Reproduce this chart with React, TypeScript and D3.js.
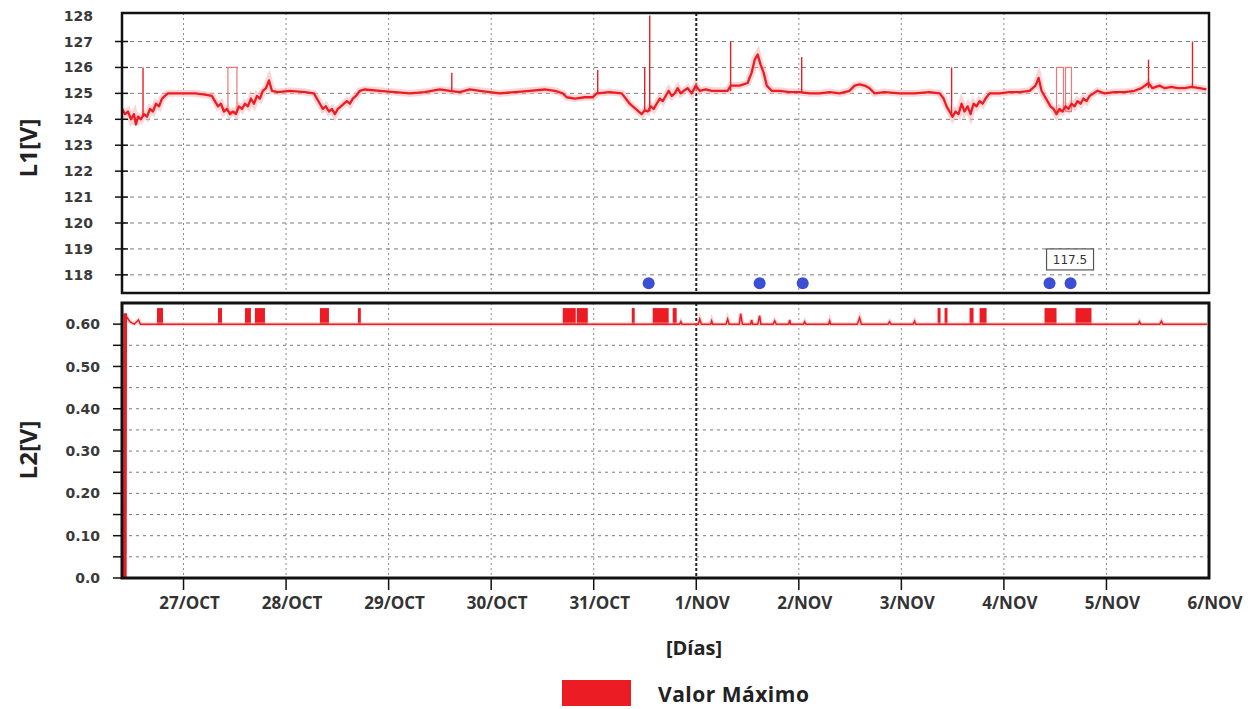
import React from "react";
import * as d3 from "d3";

// ---- Data (days counted continuously from October: 32 = 1/NOV) ----
const tickDays = [27, 28, 29, 30, 31, 32, 33, 34, 35, 36, 37];
const tickLabels = ["27/OCT", "28/OCT", "29/OCT", "30/OCT", "31/OCT", "1/NOV", "2/NOV", "3/NOV", "4/NOV", "5/NOV", "6/NOV"];
const l1TickValues = [118, 119, 120, 121, 122, 123, 124, 125, 126, 127, 128];
const l2TickValues = [0, 0.1, 0.2, 0.3, 0.4, 0.5, 0.6];
const l2TickLabels = ["0.0", "0.10", "0.20", "0.30", "0.40", "0.50", "0.60"];

// L1 voltage trace [day, volts]
const l1Series: [number, number][] = [
  [26.400, 124.4], [26.429, 124.2], [26.458, 124.3], [26.488, 124.0], [26.517, 124.2], [26.536, 123.8],
  [26.556, 124.1], [26.585, 124.0], [26.614, 124.2], [26.644, 124.1], [26.673, 124.4], [26.702, 124.3],
  [26.731, 124.6], [26.761, 124.5], [26.790, 124.8], [26.819, 124.9], [26.848, 125.0], [26.965, 125.0],
  [27.112, 125.0], [27.209, 124.95], [27.277, 124.9], [27.306, 124.7], [27.336, 124.5], [27.365, 124.6],
  [27.394, 124.3], [27.423, 124.4], [27.453, 124.2], [27.482, 124.3], [27.511, 124.2], [27.540, 124.5],
  [27.570, 124.4], [27.599, 124.6], [27.628, 124.5], [27.657, 124.8], [27.687, 124.6], [27.716, 124.9],
  [27.745, 124.8], [27.774, 125.1], [27.804, 125.2], [27.833, 125.5], [27.862, 125.1], [27.920, 125.05],
  [28.037, 125.1], [28.184, 125.05], [28.271, 125.0], [28.301, 124.8], [28.330, 124.6], [28.359, 124.4],
  [28.388, 124.5], [28.418, 124.3], [28.447, 124.4], [28.476, 124.2], [28.505, 124.4], [28.535, 124.5],
  [28.564, 124.6], [28.593, 124.7], [28.622, 124.6], [28.651, 124.8], [28.681, 124.9], [28.720, 125.1],
  [28.768, 125.15], [28.915, 125.1], [29.061, 125.05], [29.207, 125.0], [29.353, 125.05], [29.499, 125.15],
  [29.597, 125.1], [29.694, 125.05], [29.792, 125.15], [29.889, 125.1], [29.987, 125.05], [30.084, 125.0],
  [30.230, 125.05], [30.377, 125.1], [30.523, 125.15], [30.620, 125.1], [30.698, 125.0], [30.737, 124.85],
  [30.815, 124.8], [30.913, 124.85], [30.991, 124.85], [31.030, 125.0], [31.156, 125.05], [31.273, 125.0],
  [31.312, 124.8], [31.351, 124.6], [31.381, 124.5], [31.410, 124.4], [31.439, 124.3], [31.468, 124.2],
  [31.498, 124.35], [31.527, 124.3], [31.556, 124.5], [31.585, 124.4], [31.614, 124.6], [31.644, 124.8],
  [31.673, 124.7], [31.702, 124.9], [31.731, 125.1], [31.761, 124.9], [31.790, 125.0], [31.819, 125.2],
  [31.848, 125.0], [31.878, 125.1], [31.917, 125.2], [31.956, 125.0], [31.995, 125.3], [32.034, 125.1],
  [32.092, 125.15], [32.150, 125.1], [32.228, 125.1], [32.306, 125.1], [32.336, 125.3], [32.423, 125.3],
  [32.501, 125.4], [32.540, 125.8], [32.570, 126.3], [32.599, 126.5], [32.628, 126.1], [32.657, 125.8],
  [32.687, 125.3], [32.735, 125.1], [32.813, 125.1], [32.911, 125.05], [33.008, 125.05], [33.106, 125.0],
  [33.203, 125.0], [33.301, 125.05], [33.398, 125.0], [33.495, 125.1], [33.544, 125.3], [33.593, 125.35],
  [33.642, 125.3], [33.690, 125.2], [33.739, 125.0], [33.837, 125.05], [33.983, 125.0], [34.129, 125.0],
  [34.275, 125.05], [34.373, 125.0], [34.412, 124.8], [34.441, 124.5], [34.470, 124.3], [34.499, 124.1],
  [34.529, 124.3], [34.558, 124.2], [34.587, 124.6], [34.616, 124.3], [34.646, 124.5], [34.675, 124.2],
  [34.704, 124.6], [34.733, 124.5], [34.763, 124.7], [34.792, 124.6], [34.821, 124.8], [34.860, 125.0],
  [34.958, 125.0], [35.055, 125.05], [35.152, 125.05], [35.250, 125.1], [35.308, 125.3], [35.338, 125.6],
  [35.367, 125.1], [35.396, 124.9], [35.425, 124.7], [35.454, 124.5], [35.484, 124.4], [35.513, 124.2],
  [35.542, 124.4], [35.571, 124.3], [35.601, 124.5], [35.630, 124.4], [35.659, 124.6], [35.688, 124.5],
  [35.718, 124.7], [35.747, 124.6], [35.776, 124.8], [35.805, 124.7], [35.835, 124.9], [35.874, 125.0],
  [35.913, 125.1], [35.981, 125.0], [36.078, 125.05], [36.176, 125.05], [36.273, 125.1], [36.341, 125.2],
  [36.410, 125.4], [36.449, 125.2], [36.517, 125.3], [36.569, 125.2], [36.634, 125.25], [36.693, 125.2],
  [36.761, 125.2], [36.829, 125.25], [36.907, 125.2], [36.975, 125.15],
];

// L1 short max spikes: day, base volts, peak volts
const l1SpikeDays = [26.605, 29.616, 31.039, 31.497, 31.546, 32.335, 33.028, 34.490, 36.410, 36.839];
const l1SpikeBases = [124.1, 125.1, 125.0, 124.3, 124.3, 125.1, 125.05, 124.1, 125.2, 125.2];
const l1SpikeTops = [126.0, 125.8, 125.9, 126.0, 128.0, 127.0, 126.4, 126.0, 126.3, 127.0];

// L1 max pulses drawn as outlined boxes: [start, end]
const l1Pulses: [number, number][] = [[27.433, 27.521], [35.513, 35.581], [35.601, 35.659]];
const l1PulseBase = 124.3;
const l1PulseTop = 126.0;

// L1 minimum markers
const l1MinDays = [31.536, 32.618, 33.038, 35.445, 35.650];
const l1MinValue = 117.68;
const l1MinLabel = "117.5";

// L2 trace [day, volts]
const l2Series: [number, number][] = [
  [26.428, 0.0], [26.432, 0.625], [26.45, 0.615], [26.48, 0.605], [26.52, 0.6], [26.56, 0.61], [26.58, 0.6],
  [27.0, 0.6], [28.0, 0.6], [29.0, 0.6], [30.0, 0.6], [31.0, 0.6], [31.838, 0.6], [31.85, 0.606], [31.86, 0.6],
  [32.02, 0.6], [32.034, 0.612], [32.05, 0.6], [32.14, 0.6], [32.150, 0.608], [32.16, 0.6],
  [32.29, 0.6], [32.306, 0.612], [32.32, 0.6], [32.42, 0.6], [32.433, 0.625], [32.45, 0.6],
  [32.53, 0.6], [32.540, 0.61], [32.55, 0.6], [32.60, 0.6], [32.618, 0.62], [32.63, 0.6],
  [32.75, 0.6], [32.765, 0.608], [32.78, 0.6], [32.90, 0.6], [32.911, 0.61], [32.92, 0.6],
  [33.045, 0.6], [33.057, 0.606], [33.07, 0.6], [33.29, 0.6], [33.301, 0.608], [33.31, 0.6],
  [33.57, 0.6], [33.593, 0.615], [33.61, 0.6], [33.87, 0.6], [33.885, 0.606], [33.90, 0.6],
  [34.115, 0.6], [34.129, 0.607], [34.14, 0.6], [35.0, 0.6], [36.0, 0.6], [36.31, 0.6], [36.322, 0.606],
  [36.335, 0.6], [36.52, 0.6], [36.536, 0.607], [36.55, 0.6], [36.98, 0.6],
];

// L2 max blocks: [start, end]
const l2Blocks: [number, number][] = [
  [26.741, 26.800], [27.336, 27.375], [27.599, 27.657], [27.696, 27.794], [28.330, 28.418],
  [28.700, 28.729], [30.698, 30.825], [30.835, 30.942], [31.371, 31.400], [31.575, 31.731],
  [31.770, 31.809], [34.353, 34.382], [34.421, 34.450], [34.665, 34.704], [34.763, 34.831],
  [35.396, 35.513], [35.698, 35.854],
];
const l2BlockBase = 0.6;
const l2BlockTop = 0.638;

const l1Grid = [118, 119, 120, 121, 122, 123, 124, 125, 126, 127];
const l2Grid = [0.05, 0.1, 0.15, 0.2, 0.25, 0.3, 0.35, 0.4, 0.45, 0.5, 0.55];
const l2MinorTicks = [0.05, 0.15, 0.25, 0.35, 0.45, 0.55];

const RED = "#ec1c24";
const FONT = "'Open Sans', 'DejaVu Sans', sans-serif";
const TICK_FONT = "'DejaVu Sans', sans-serif";

export default function App() {
  const W = 1260;
  const H = 709;
  const left = 122;
  const right = 1209;
  const top1 = 13;
  const bot1 = 293;
  const top2 = 303;
  const bot2 = 578;

  const x = d3.scaleLinear().domain([26.4, 37]).range([left, right]);
  const y1 = d3.scaleLinear().domain([117.3, 128.1]).range([bot1, top1]);
  const y2 = d3.scaleLinear().domain([0, 0.65]).range([bot2, top2]);

  const line1 = d3.line<[number, number]>().x((d) => x(d[0])).y((d) => y1(d[1]));
  const line2 = d3.line<[number, number]>().x((d) => x(d[0])).y((d) => y2(d[1]));

  const gridDays = tickDays.slice(0, 10);

  return (
    <svg width={W} height={H} style={{ position: "absolute", left: 0, top: 0, background: "#fff" }}>
      <defs>
        <clipPath id="c1"><rect x={left} y={top1} width={right - left} height={bot1 - top1} /></clipPath>
        <clipPath id="c2"><rect x={left} y={top2} width={right - left} height={bot2 - top2} /></clipPath>
      </defs>

      {/* ---------- Top panel ---------- */}
      <g>
        {l1Grid.map((v) => (
          <line key={"h1" + v} x1={left} x2={right} y1={y1(v)} y2={y1(v)} stroke="#7a7a7a" strokeWidth={1} strokeDasharray="4,4" />
        ))}
        {gridDays.map((d) => (
          <line key={"v1" + d} x1={x(d)} x2={x(d)} y1={top1} y2={bot1}
            stroke={d === 32 ? "#222" : "#8a8a8a"} strokeWidth={d === 32 ? 2 : 1} strokeDasharray={d === 32 ? "3,2" : "2,3"} />
        ))}
        <g clipPath="url(#c1)">
          <path d={line1(l1Series) || ""} fill="none" stroke="#f8b4b4" strokeWidth={7} strokeOpacity={0.55} />
          {l1Pulses.map((p, i) => (
            <rect key={"p" + i} x={x(p[0])} y={y1(l1PulseTop)} width={x(p[1]) - x(p[0])} height={y1(l1PulseBase) - y1(l1PulseTop)}
              fill="none" stroke="#f07878" strokeWidth={1.2} />
          ))}
          {l1SpikeDays.map((d, i) => (
            <line key={"s" + i} x1={x(d)} x2={x(d)} y1={y1(l1SpikeBases[i])} y2={y1(l1SpikeTops[i])} stroke={RED} strokeWidth={1.4} />
          ))}
          <path d={line1(l1Series) || ""} fill="none" stroke={RED} strokeWidth={2.3} strokeLinejoin="round" />
        </g>
        {l1MinDays.map((d, i) => (
          <circle key={"m" + i} cx={x(d)} cy={y1(l1MinValue)} r={6} fill="#3b4fd6" />
        ))}
        <g transform={`translate(${x(l1MinDays[3]) - 3},${y1(119.0)})`}>
          <rect x={0} y={0} width={47} height={21} fill="#fff" stroke="#555" strokeWidth={1.2} />
          <text x={23.5} y={15} textAnchor="middle" fontFamily={TICK_FONT} fontSize={12} fill="#333">{l1MinLabel}</text>
        </g>
        <rect x={left} y={top1} width={right - left} height={bot1 - top1} fill="none" stroke="#111" strokeWidth={2.5} />
        {l1TickValues.map((v) => (
          <g key={"t1" + v}>
            {v < 128 && <line x1={115} x2={128} y1={y1(v)} y2={y1(v)} stroke="#111" strokeWidth={1.5} />}
            <text x={93} y={y1(v)} dy="0.36em" textAnchor="end" fontFamily={TICK_FONT} fontWeight="bold" fontSize={14} fill="#3a3a3a">{v}</text>
          </g>
        ))}
        <text transform={`translate(29,148) rotate(-90)`} textAnchor="middle" dy="0.35em" fontFamily={FONT} fontWeight="bold" fontSize={24} fill="#222">L1[V]</text>
      </g>

      {/* ---------- Bottom panel ---------- */}
      <g>
        {l2Grid.map((v) => (
          <line key={"h2" + v} x1={left} x2={right} y1={y2(v)} y2={y2(v)} stroke="#7a7a7a" strokeWidth={1} strokeDasharray="3,4" />
        ))}
        {gridDays.map((d) => (
          <line key={"v2" + d} x1={x(d)} x2={x(d)} y1={top2} y2={bot2}
            stroke={d === 32 ? "#222" : "#8a8a8a"} strokeWidth={d === 32 ? 2 : 1} strokeDasharray={d === 32 ? "3,2" : "2,3"} />
        ))}
        <g clipPath="url(#c2)">
          {l2Blocks.map((b, i) => (
            <rect key={"b" + i} x={x(b[0])} y={y2(l2BlockTop)} width={x(b[1]) - x(b[0])} height={y2(l2BlockBase) - y2(l2BlockTop)} fill={RED} />
          ))}
          <path d={line2(l2Series) || ""} fill="none" stroke="#f7a8a8" strokeWidth={4} strokeOpacity={0.5} />
          <path d={line2(l2Series) || ""} fill="none" stroke={RED} strokeWidth={1.5} />
          <line x1={x(l2Series[0][0])} x2={x(l2Series[1][0])} y1={y2(l2Series[0][1])} y2={y2(l2Series[1][1])} stroke={RED} strokeWidth={3.5} />
        </g>
        <rect x={left} y={top2} width={right - left} height={bot2 - top2} fill="none" stroke="#111" strokeWidth={3} />
        {l2MinorTicks.map((v) => (
          <line key={"mt" + v} x1={113} x2={left} y1={y2(v)} y2={y2(v)} stroke="#111" strokeWidth={1.5} />
        ))}
        {l2TickValues.map((v, i) => (
          <g key={"t2" + v}>
            <line x1={113} x2={left} y1={y2(v)} y2={y2(v)} stroke="#111" strokeWidth={1.5} />
            <text x={100} y={y2(v)} dy="0.36em" textAnchor="end" fontFamily={TICK_FONT} fontWeight="bold" fontSize={14} fill="#3a3a3a">{l2TickLabels[i]}</text>
          </g>
        ))}
        <text transform={`translate(29,450) rotate(-90)`} textAnchor="middle" dy="0.35em" fontFamily={FONT} fontWeight="bold" fontSize={24} fill="#222">L2[V]</text>
        {tickDays.map((d, i) => (
          <g key={"xt" + d}>
            {d < 37 && <line x1={x(d)} x2={x(d)} y1={bot2} y2={bot2 + 12} stroke="#111" strokeWidth={1.5} />}
            <text x={x(d) + 6} y={609} textAnchor="middle" fontFamily={FONT} fontWeight="bold" fontSize={17} fill="#333">{tickLabels[i]}</text>
          </g>
        ))}
      </g>

      {/* ---------- Axis title and legend ---------- */}
      <text x={694} y={655} textAnchor="middle" fontFamily={FONT} fontWeight="bold" fontSize={20} fill="#222">[Días]</text>
      <rect x={562} y={680} width={69} height={26} fill={RED} />
      <text x={658} y={702} fontFamily={FONT} fontWeight="bold" fontSize={21} letterSpacing={0.5} fill="#222">Valor Máximo</text>
    </svg>
  );
}
